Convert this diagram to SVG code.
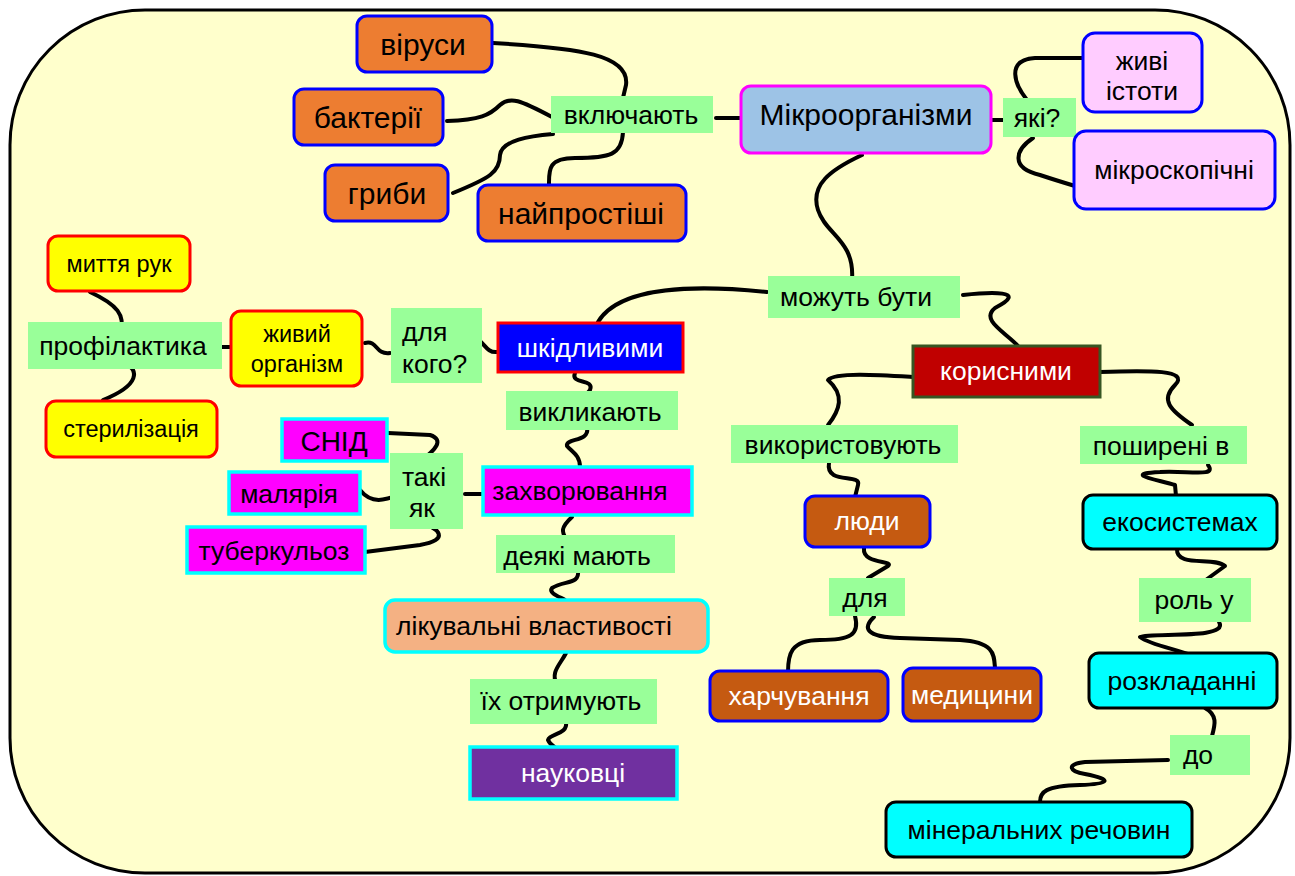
<svg xmlns="http://www.w3.org/2000/svg" width="1295" height="876" viewBox="0 0 1295 876">
  <style>
    text { font-family: "Liberation Sans", Arial, sans-serif; fill: #000; text-anchor: middle; }
    .lbl { fill: #99FF99; }
    .lt { font-size: 26.5px; }
    .big { font-size: 30px; }
    .sm { font-size: 23.5px; }
    .w { fill: #FFFFFF; }
    .org { fill: #ED7D31; stroke: #0000FF; stroke-width: 3; }
    .pink { fill: #FFCCFF; stroke: #0000FF; stroke-width: 3; }
    .yel { fill: #FFFF00; stroke: #FF0000; stroke-width: 3; }
    .mag { fill: #FF00FF; stroke: #00FFFF; stroke-width: 3.5; }
    .brn { fill: #C55A11; stroke: #0000FF; stroke-width: 3; }
    .cyn { fill: #00FFFF; stroke: #000000; stroke-width: 3; }
    .conn path { fill: none; stroke: #000; stroke-width: 4; stroke-linecap: round; stroke-linejoin: round; }
  </style>

  <!-- background panel -->
  <rect x="10" y="10" width="1280" height="863" rx="135" ry="135" fill="#FFFFCC" stroke="#000" stroke-width="3"/>

  <!-- connectors -->
  <g id="connectors" class="conn">
    <path d="M493,43 C580,48 630,55 626,85 L622,102"/>
    <path d="M447,121 C480,120 490,115 500,105 C510,96 520,100 552,117"/>
    <path d="M453,193 C490,178 500,172 500,155 C502,140 530,136 553,134"/>
    <path d="M623,132 C622,155 610,158 575,158 C548,158 549,170 549,184"/>
    <path d="M716,118 L740,118"/>
    <path d="M992,120 L1005,120"/>
    <path d="M1027,100 C1015,85 1005,60 1035,58 L1083,58"/>
    <path d="M1033,138 C1015,150 1010,168 1040,175 C1055,180 1065,183 1075,186"/>
    <path d="M862,155 C830,170 810,185 818,210 C826,235 855,240 852,280"/>
    <path d="M767,292 C700,285 620,285 598,322"/>
    <path d="M963,295 C990,292 1030,290 995,308 C980,320 1005,332 1018,346"/>
    <path d="M497,352 C488,353 485,345 480,341"/>
    <path d="M390,353 C375,355 378,340 365,343"/>
    <path d="M208,347 L231,347"/>
    <path d="M121,333 C125,315 118,305 90,292"/>
    <path d="M123,362 C140,370 140,385 103,400"/>
    <path d="M575,373 C570,385 595,378 590,390 L585,396"/>
    <path d="M587,428 C590,442 565,438 567,446 C572,452 580,455 580,467"/>
    <path d="M465,494 L483,494"/>
    <path d="M421,461 C435,450 445,440 430,435 L388,433"/>
    <path d="M402,494 C385,500 372,505 360,490"/>
    <path d="M420,523 C440,528 450,540 420,545 L365,552"/>
    <path d="M572,517 C560,528 562,532 566,539"/>
    <path d="M578,570 C580,585 565,580 552,588 C548,593 560,597 565,600"/>
    <path d="M566,653 C560,665 550,672 557,685"/>
    <path d="M566,722 C568,735 550,733 548,740 C550,745 555,747 557,749"/>
    <path d="M913,377 C880,375 835,372 828,380 C845,395 840,410 828,425"/>
    <path d="M1100,372 C1150,370 1190,370 1175,385 C1160,400 1170,410 1192,425"/>
    <path d="M829,463 C825,485 862,473 858,485 L855,497"/>
    <path d="M864,548 C862,565 895,560 888,566 L868,578"/>
    <path d="M855,616 C860,635 850,640 820,640 C790,640 788,655 788,672"/>
    <path d="M874,617 C862,628 866,637 900,638 L960,640 C995,642 994,655 995,668"/>
    <path d="M1208,465 C1218,478 1185,470 1160,472 C1120,474 1160,480 1175,485 L1176,496"/>
    <path d="M1177,549 C1176,568 1215,556 1225,566 L1203,582"/>
    <path d="M1219,622 C1230,640 1150,632 1140,637 C1150,645 1180,650 1190,655"/>
    <path d="M1205,708 C1218,715 1215,725 1212,736"/>
    <path d="M1168,760 L1085,762 C1065,764 1070,772 1085,774 C1115,780 1108,784 1080,785 C1045,786 1040,792 1040,802"/>
  </g>

  <!-- top group -->
  <g id="virusy"><rect class="org" x="357" y="16" width="135" height="56" rx="10"/><text class="big" x="423" y="55">віруси</text></g>
  <g id="bakterii"><rect class="org" x="294" y="89" width="149" height="56" rx="10"/><text class="big" x="368" y="128">бактерії</text></g>
  <g id="hryby"><rect class="org" x="325" y="165" width="123" height="56" rx="10"/><text class="big" x="387" y="204">гриби</text></g>
  <g id="naiprostishi"><rect class="org" x="478" y="185" width="208" height="56" rx="10"/><text class="big" x="581" y="224">найпростіші</text></g>
  <g id="vkliuchaiut"><rect class="lbl" x="551" y="96" width="162" height="37"/><text class="lt" x="631" y="124">включають</text></g>
  <g id="mikroorganizmy"><rect x="741" y="86" width="250" height="67" rx="10" fill="#9DC3E6" stroke="#FF00FF" stroke-width="3"/><text class="big" x="866" y="125">Мікроорганізми</text></g>
  <g id="iaki"><rect class="lbl" x="1003" y="98" width="73" height="39"/><text class="lt" x="1037" y="127">які?</text></g>
  <g id="zhyvi-istoty"><rect class="pink" x="1083" y="33" width="119" height="79" rx="12"/><text class="lt" x="1142" y="70">живі</text><text class="lt" x="1142" y="100">істоти</text></g>
  <g id="mikroskopichni"><rect class="pink" x="1074" y="131" width="201" height="78" rx="12"/><text class="lt" x="1174" y="179">мікроскопічні</text></g>

  <!-- harmful branch -->
  <g id="myttia-ruk"><rect class="yel" x="48" y="236" width="142" height="55" rx="10"/><text class="sm" x="119" y="272">миття рук</text></g>
  <g id="profilaktyka"><rect class="lbl" x="28" y="322" width="194" height="47"/><text class="lt" x="123" y="355">профілактика</text></g>
  <g id="sterylizatsiia"><rect class="yel" x="46" y="401" width="171" height="56" rx="10"/><text class="sm" x="131" y="437">стерилізація</text></g>
  <g id="zhyvyi-orhanizm"><rect class="yel" x="231" y="311" width="131" height="75" rx="10"/><text class="sm" x="297" y="342">живий</text><text class="sm" x="297" y="372">організм</text></g>
  <g id="dlia-koho"><rect class="lbl" x="391" y="308" width="91" height="75"/><text class="lt" x="402" y="341" style="text-anchor:start">для</text><text class="lt" x="402" y="373" style="text-anchor:start">кого?</text></g>
  <g id="shkidlyvymy"><rect x="498" y="323" width="185" height="49" fill="#0000FF" stroke="#FF0000" stroke-width="3"/><text class="lt w" x="590" y="357">шкідливими</text></g>
  <g id="vyklykaiut"><rect class="lbl" x="506" y="391" width="172" height="39"/><text class="lt" x="590" y="421">викликають</text></g>
  <g id="snid"><rect class="mag" x="282" y="419" width="105" height="42"/><text x="334" y="451" font-size="28">СНІД</text></g>
  <g id="maliariia"><rect class="mag" x="229" y="472" width="131" height="42"/><text class="lt" x="289" y="503">малярія</text></g>
  <g id="tuberkuloz"><rect class="mag" x="187" y="527" width="178" height="46"/><text class="lt" x="274" y="560">туберкульоз</text></g>
  <g id="taki-iak"><rect class="lbl" x="390" y="453" width="73" height="76"/><text class="lt" x="424" y="486">такі</text><text class="lt" x="422" y="517">як</text></g>
  <g id="zakhvoriuvannia"><rect class="mag" x="483" y="467" width="209" height="48"/><text class="lt" x="580" y="500">захворювання</text></g>
  <g id="deiaki-maiut"><rect class="lbl" x="496" y="535" width="179" height="38"/><text class="lt" x="577" y="565">деякі мають</text></g>
  <g id="likuvalni"><rect x="385" y="600" width="323" height="52" rx="10" fill="#F4B183" stroke="#00FFFF" stroke-width="3.5"/><text class="lt" x="534" y="635">лікувальні властивості</text></g>
  <g id="yikh-otrymuiut"><rect class="lbl" x="470" y="679" width="187" height="45"/><text class="lt" x="561" y="710">їх отримують</text></g>
  <g id="naukovtsi"><rect x="470" y="747" width="207" height="52" fill="#7030A0" stroke="#00FFFF" stroke-width="3.5"/><text class="lt w" x="573" y="782">науковці</text></g>

  <!-- useful branch -->
  <g id="mozhut-buty"><rect class="lbl" x="768" y="276" width="192" height="42"/><text class="lt" x="856" y="306">можуть бути</text></g>
  <g id="korysnymy"><rect x="913" y="346" width="187" height="51" fill="#C00000" stroke="#375623" stroke-width="3"/><text class="lt w" x="1006" y="380">корисними</text></g>
  <g id="vykorystovuiut"><rect class="lbl" x="731" y="425" width="227" height="38"/><text class="lt" x="843" y="454">використовують</text></g>
  <g id="liudy"><rect class="brn" x="805" y="496" width="125" height="51" rx="10"/><text class="lt w" x="867" y="530">люди</text></g>
  <g id="dlia"><rect class="lbl" x="829" y="578" width="76" height="38"/><text class="lt" x="865" y="607">для</text></g>
  <g id="kharchuvannia"><rect class="brn" x="710" y="671" width="178" height="50" rx="10"/><text class="lt w" x="799" y="705">харчування</text></g>
  <g id="medytsyny"><rect class="brn" x="903" y="668" width="138" height="53" rx="10"/><text class="lt w" x="972" y="704">медицини</text></g>
  <g id="poshyreni-v"><rect class="lbl" x="1080" y="426" width="167" height="38"/><text class="lt" x="1161" y="455">поширені в</text></g>
  <g id="ekosystemakh"><rect class="cyn" x="1083" y="495" width="194" height="54" rx="10"/><text class="lt" x="1180" y="531">екосистемах</text></g>
  <g id="rol-u"><rect class="lbl" x="1139" y="578" width="112" height="44"/><text class="lt" x="1194" y="609">роль у</text></g>
  <g id="rozkladanni"><rect class="cyn" x="1089" y="653" width="188" height="55" rx="10"/><text class="lt" x="1182" y="690">розкладанні</text></g>
  <g id="do"><rect class="lbl" x="1170" y="735" width="80" height="40"/><text class="lt" x="1198" y="764">до</text></g>
  <g id="mineralnykh"><rect class="cyn" x="886" y="802" width="306" height="55" rx="10"/><text class="lt" x="1039" y="839">мінеральних речовин</text></g>
</svg>
